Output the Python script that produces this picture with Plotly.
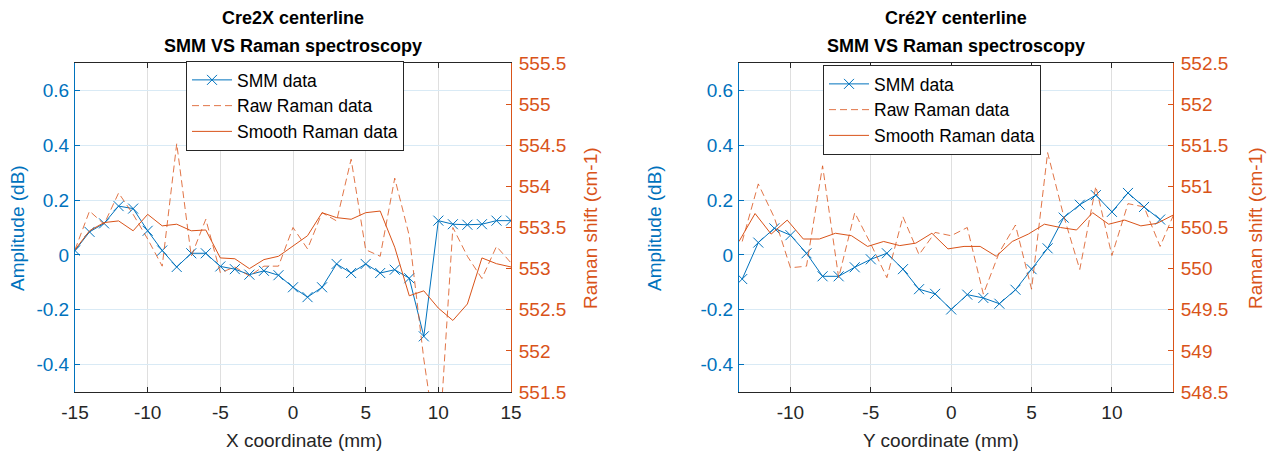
import plotly.graph_objects as go

# ---------------- data ----------------
# Left panel: Cre2X centerline
x_left = [-15, -14, -13, -12, -11, -10, -9, -8, -7, -6, -5, -4, -3, -2, -1, 0,
          1, 2, 3, 4, 5, 6, 7, 8, 9, 10, 11, 12, 13, 14, 15]
smm_left = [0.016, 0.084, 0.115, 0.178, 0.169, 0.088, 0.016, -0.044, 0.006, 0.006,
            -0.042, -0.052, -0.072, -0.058, -0.074, -0.118, -0.154, -0.118, -0.033,
            -0.066, -0.033, -0.066, -0.054, -0.085, -0.297, 0.125, 0.112, 0.110,
            0.112, 0.125, 0.125]
raw_left = [553.23, 553.70, 553.54, 553.92, 553.66, 553.36, 553.03, 554.52, 553.15,
            553.60, 552.95, 553.02, 552.91, 553.03, 553.03, 553.50, 553.24, 553.68,
            553.58, 554.33, 553.23, 553.15, 554.10, 553.40, 551.90, 550.70, 553.50,
            553.15, 552.88, 553.27, 553.07]
smooth_left = [553.23, 553.46, 553.56, 553.58, 553.46, 553.66, 553.52, 553.54, 553.46,
               553.47, 553.13, 553.12, 553.00, 553.11, 553.15, 553.27, 553.40, 553.68,
               553.62, 553.60, 553.68, 553.70, 553.26, 552.67, 552.73, 552.52, 552.37,
               552.57, 553.13, 553.06, 553.02]

# Right panel: Cré2Y centerline
x_right_smm = [-13, -12, -11, -10, -9, -8, -7, -6, -5, -4, -3, -2, -1, 0,
               1, 2, 3, 4, 5, 6, 7, 8, 9, 10, 11, 12, 13]
smm_right = [-0.088, 0.045, 0.097, 0.072, 0.006, -0.078, -0.078, -0.045, -0.016,
             0.006, -0.052, -0.125, -0.142, -0.199, -0.145, -0.157, -0.178, -0.127,
             -0.052, 0.024, 0.136, 0.183, 0.218, 0.157, 0.226, 0.175, 0.129]
x_right_raw = [-13, -12, -11, -10, -9, -8, -7, -6, -5, -4, -3, -2, -1, 0,
               1, 2, 3, 4, 5, 6, 7, 8, 9, 10, 11, 12, 13, 14]
raw_right = [550.33, 551.03, 550.62, 550.01, 550.03, 551.25, 549.89, 550.68, 550.30,
             549.89, 550.63, 550.17, 550.44, 550.40, 550.50, 549.69, 550.20, 550.53,
             549.75, 551.41, 550.64, 549.99, 551.00, 550.16, 550.79, 550.75, 550.27,
             550.73]
x_right_smooth = [-13.2, -12.2, -11.2, -10.2, -9.2, -8.2, -7.2, -6.2, -5.2, -4.2, -3.2,
                  -2.2, -1.2, -0.2, 0.8, 1.8, 2.8, 3.8, 4.8, 5.8, 6.8, 7.8, 8.8, 9.8,
                  10.8, 11.8, 12.8, 13.8]
smooth_right = [550.33, 550.67, 550.42, 550.59, 550.36, 550.36, 550.43, 550.40, 550.27,
                550.33, 550.28, 550.31, 550.43, 550.24, 550.27, 550.27, 550.15, 550.33,
                550.42, 550.54, 550.50, 550.47, 550.68, 550.54, 550.59, 550.52, 550.55,
                550.65]

amp_ticks = [-0.4, -0.2, 0, 0.2, 0.4, 0.6]
amp_text = ["-0.4", "-0.2", "0", "0.2", "0.4", "0.6"]
raman_left_ticks = [551.5, 552, 552.5, 553, 553.5, 554, 554.5, 555, 555.5]
raman_right_ticks = [548.5, 549, 549.5, 550, 550.5, 551, 551.5, 552, 552.5]
x_left_ticks = [-15, -10, -5, 0, 5, 10, 15]
x_right_ticks = [-10, -5, 0, 5, 10]

# ---------------- style ----------------
W, H = 1272, 457
BLUE = "#0072BD"
ORANGE = "#D95319"
DARK = "#262626"
FONT = "Liberation Sans, Arial, Helvetica, sans-serif"
HGRID = "#D9EAF5"
VGRID = "#DFDFDF"
DASH = "7px,4px"


def px_x(p):
    return p / W


def px_y(p):
    return 1 - p / H


def fmt(v):
    return "%g" % v


fig = go.Figure()

# left panel traces
fig.add_trace(go.Scatter(x=x_left, y=smm_left, name="SMM data", mode="lines+markers",
                         line=dict(color=BLUE, width=1),
                         marker=dict(symbol="x-thin-open", size=10, line=dict(color=BLUE, width=1)),
                         xaxis="x", yaxis="y", legend="legend"))
fig.add_trace(go.Scatter(x=x_left, y=raw_left, name="Raw Raman data", mode="lines",
                         line=dict(color="rgba(217,83,25,0.8)", width=1, dash=DASH),
                         xaxis="x", yaxis="y2", legend="legend"))
fig.add_trace(go.Scatter(x=x_left, y=smooth_left, name="Smooth Raman data", mode="lines",
                         line=dict(color=ORANGE, width=1),
                         xaxis="x", yaxis="y2", legend="legend"))

# right panel traces
fig.add_trace(go.Scatter(x=x_right_smm, y=smm_right, name="SMM data", mode="lines+markers",
                         line=dict(color=BLUE, width=1),
                         marker=dict(symbol="x-thin-open", size=10, line=dict(color=BLUE, width=1)),
                         xaxis="x2", yaxis="y3", legend="legend2"))
fig.add_trace(go.Scatter(x=x_right_raw, y=raw_right, name="Raw Raman data", mode="lines",
                         line=dict(color="rgba(217,83,25,0.8)", width=1, dash=DASH),
                         xaxis="x2", yaxis="y4", legend="legend2"))
fig.add_trace(go.Scatter(x=x_right_smooth, y=smooth_right, name="Smooth Raman data", mode="lines",
                         line=dict(color=ORANGE, width=1),
                         xaxis="x2", yaxis="y4", legend="legend2"))

ydom = [px_y(392), px_y(63)]
tickfont_x = dict(family=FONT, size=19, color=DARK)


def xaxis_common(dom, rng, ticks):
    return dict(domain=dom, range=rng, tickvals=ticks, ticktext=[fmt(t) for t in ticks],
                automargin=False,
                showgrid=True, gridcolor=VGRID, gridwidth=1, zeroline=False,
                showline=True, linecolor=DARK, linewidth=1, mirror="ticks",
                ticks="inside", ticklen=5, tickcolor=DARK, tickfont=tickfont_x,
                ticklabelstandoff=3)


def yleft(anchor):
    return dict(domain=ydom, range=[-0.5, 0.7], anchor=anchor, automargin=False,
                tickvals=amp_ticks, ticktext=amp_text,
                showgrid=True, gridcolor=HGRID, gridwidth=1, zeroline=False,
                showline=True, linecolor=BLUE, linewidth=1,
                ticks="inside", ticklen=5, tickcolor=BLUE,
                tickfont=dict(family=FONT, size=19, color=BLUE), ticklabelstandoff=1)


def yright(overlay, anchor, rng, ticks):
    return dict(overlaying=overlay, anchor=anchor, side="right", range=rng,
                automargin=False,
                tickvals=ticks, ticktext=[fmt(t) for t in ticks],
                showgrid=False, zeroline=False,
                showline=True, linecolor=ORANGE, linewidth=1,
                ticks="inside", ticklen=5, tickcolor=ORANGE,
                tickfont=dict(family=FONT, size=19, color=ORANGE), ticklabelstandoff=3)


xa1 = xaxis_common([px_x(75), px_x(511)], [-15, 15], x_left_ticks)
xa1["anchor"] = "y"
xa2 = xaxis_common([px_x(739), px_x(1173)], [-13.2, 13.8], x_right_ticks)
xa2["anchor"] = "y3"

legend_common = dict(bgcolor="white", bordercolor=DARK, borderwidth=1,
                     font=dict(family=FONT, size=17.5, color="black"),
                     xanchor="left", yanchor="top", tracegroupgap=0,
                     itemwidth=40)

annotations = []
for cx, t1 in [(293, "Cre2X centerline"), (956, "Cré2Y centerline")]:
    annotations.append(dict(x=px_x(cx), y=px_y(18), xref="paper", yref="paper",
                            text="<b>%s</b>" % t1, showarrow=False,
                            font=dict(family=FONT, size=18, color="black"),
                            xanchor="center", yanchor="middle"))
    annotations.append(dict(x=px_x(cx), y=px_y(46), xref="paper", yref="paper",
                            text="<b>SMM VS Raman spectroscopy</b>", showarrow=False,
                            font=dict(family=FONT, size=18, color="black"),
                            xanchor="center", yanchor="middle"))
for cx, t in [(304, "X coordinate (mm)"), (941, "Y coordinate (mm)")]:
    annotations.append(dict(x=px_x(cx), y=px_y(440), xref="paper", yref="paper",
                            text=t, showarrow=False,
                            font=dict(family=FONT, size=19, color=DARK),
                            xanchor="center", yanchor="middle"))
for cx in [17, 654]:
    annotations.append(dict(x=px_x(cx), y=px_y(228), xref="paper", yref="paper",
                            text="Amplitude (dB)", showarrow=False, textangle=-90,
                            font=dict(family=FONT, size=19, color=BLUE),
                            xanchor="center", yanchor="middle"))
for cx in [590, 1255]:
    annotations.append(dict(x=px_x(cx), y=px_y(228), xref="paper", yref="paper",
                            text="Raman shift (cm-1)", showarrow=False, textangle=-90,
                            font=dict(family=FONT, size=19, color=ORANGE),
                            xanchor="center", yanchor="middle"))

fig.update_layout(
    width=W, height=H,
    margin=dict(l=0, r=0, t=0, b=0, autoexpand=False),
    paper_bgcolor="white", plot_bgcolor="white",
    font=dict(family=FONT),
    xaxis=xa1,
    yaxis=yleft("x"),
    yaxis2=yright("y", "x", [551.5, 555.5], raman_left_ticks),
    xaxis2=xa2,
    yaxis3=yleft("x2"),
    yaxis4=yright("y3", "x2", [548.5, 552.5], raman_right_ticks),
    legend=dict(x=px_x(186), y=px_y(61), **legend_common),
    legend2=dict(x=px_x(823), y=px_y(65), **legend_common),
    annotations=annotations,
    showlegend=True,
)

fig.write_html("out.html",
               config={"displayModeBar": False},
               post_script="document.body.style.margin='0px';document.body.style.overflow='hidden';")
